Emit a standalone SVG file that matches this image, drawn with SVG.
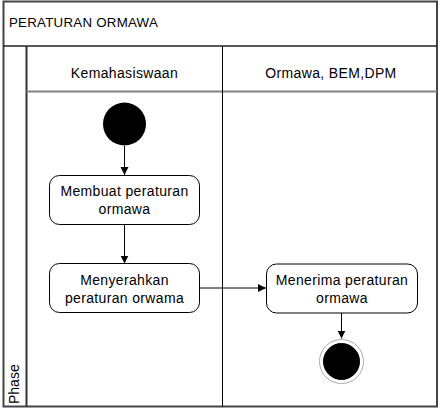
<svg xmlns="http://www.w3.org/2000/svg" width="441" height="413" viewBox="0 0 441 413">
<style>
text{font-family:"Liberation Sans",Arial,sans-serif;fill:#000;}
.t{font-size:14px;text-anchor:middle;letter-spacing:0.35px;}
.act{fill:#fff;stroke:#000;stroke-width:1;}
.frame{fill:#fff;stroke:#444;stroke-width:2;}
.conn{stroke:#000;stroke-width:1;fill:none;marker-end:url(#arr);}
</style>
<defs>
<marker id="arr" markerWidth="10" markerHeight="10" refX="8" refY="4" orient="auto" markerUnits="userSpaceOnUse">
<path d="M0,0 L8,4 L0,8 Z" fill="#000"/>
</marker>
</defs>
<g id="pool">
<rect class="frame" x="3.5" y="1.5" width="433.5" height="405"/>
<line x1="3.5" y1="46" x2="437" y2="46" stroke="#222" stroke-width="1.5"/>
<text x="9" y="27" font-size="13.3" letter-spacing="0.25">PERATURAN ORMAWA</text>
<line x1="26.5" y1="46" x2="26.5" y2="406.5" stroke="#333" stroke-width="2"/>
<line x1="26.5" y1="91.5" x2="437" y2="91.5" stroke="#808080" stroke-width="2"/>
<line x1="222.5" y1="46" x2="222.5" y2="406.5" stroke="#000" stroke-width="1"/>
<text transform="translate(19,404) rotate(-90)" font-size="14">Phase</text>
</g>
<g id="lane1"><text class="t" x="124.5" y="78">Kemahasiswaan</text></g>
<g id="lane2"><text class="t" x="331" y="78">Ormawa, BEM,DPM</text></g>
<g id="connectors">
<line class="conn" x1="124.5" y1="146" x2="124.5" y2="175"/>
<line class="conn" x1="124.5" y1="224.5" x2="124.5" y2="263.5"/>
<line class="conn" x1="199" y1="288" x2="266" y2="288"/>
<line class="conn" x1="341.5" y1="313" x2="341.5" y2="338.5"/>
</g>
<g id="start"><circle cx="124.5" cy="124" r="21.5" fill="#000"/></g>
<g id="a1">
<rect class="act" x="49.5" y="175.5" width="150" height="49" rx="10"/>
<text class="t" x="124.5" y="196">Membuat peraturan</text>
<text class="t" x="124.5" y="214">ormawa</text>
</g>
<g id="a2">
<rect class="act" x="49.5" y="263.5" width="150" height="49" rx="10"/>
<text class="t" x="124.5" y="285">Menyerahkan</text>
<text class="t" x="124.5" y="303">peraturan orwama</text>
</g>
<g id="a3">
<rect class="act" x="266.5" y="264" width="151" height="49" rx="10"/>
<text class="t" x="342" y="284.5">Menerima peraturan</text>
<text class="t" x="342" y="303">ormawa</text>
</g>
<g id="end">
<circle cx="341.5" cy="361.5" r="22" fill="#fff" stroke="#aaa" stroke-width="1"/>
<circle cx="341.5" cy="361.5" r="18" fill="#000" stroke="#000" stroke-width="1"/>
</g>
</svg>
